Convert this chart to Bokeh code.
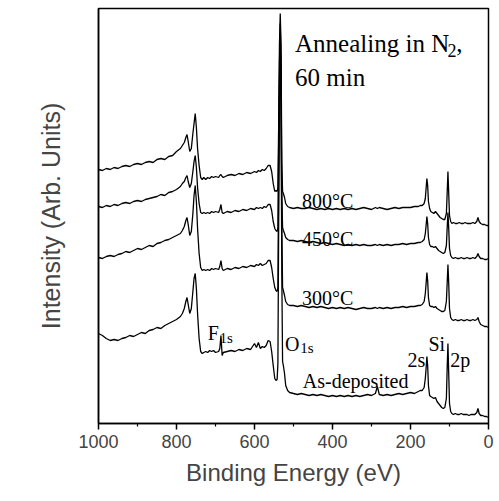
from bokeh.plotting import figure
from bokeh.models import Range1d, FixedTicker, Label
from bokeh.embed import file_html
from bokeh.resources import INLINE

# Binding energy grid (eV), shared by all spectra
energy = [1000, 990, 980, 970, 960, 950, 940, 930, 920, 910, 900, 890, 880, 870, 860, 850, 840, 830, 820, 810, 800, 790,
          785, 780, 776, 773, 770, 766, 762, 758, 755, 752, 749, 746, 742, 738, 734, 730,
          725, 720, 715, 710, 705, 700, 692, 689, 686, 683, 680,
          670, 660, 650, 640, 630, 620, 610, 600, 595, 590, 585, 580, 575, 570, 565, 560, 556, 552, 548, 545, 542, 540,
          538, 536, 534, 532, 530, 528, 526, 523, 520, 515, 510,
          500, 490, 480, 470, 460, 450, 440, 430, 420, 410, 400, 390, 380, 370, 360, 350, 340, 330, 320, 310,
          300, 290, 285, 280, 270, 260, 250, 240, 230, 220, 210, 200, 190, 180, 175, 170,
          165, 162, 160, 158, 156, 154, 151, 148, 144, 140, 136, 132, 128, 124, 120, 116, 112, 108, 106, 104, 102, 100, 97, 94,
          90, 85, 80, 75, 70, 65, 60, 55, 50, 45, 40, 35, 30, 27, 24, 20, 15, 10, 5, 0]

# Intensities (arb. units, offset stacked)
int_800 = [254, 253, 255, 254, 256, 255, 257, 258, 257, 259, 260, 259, 261, 262, 261, 264, 265, 264, 267, 268, 272, 275,
           278, 281, 286, 289, 282, 272, 275, 290, 300, 310, 296, 275, 258, 246, 244, 246,
           244, 246, 245, 247, 246, 247, 246, 248, 249, 247, 246,
           248, 249, 248, 250, 249, 251, 250, 252, 251, 253, 252, 254, 253, 255, 258, 258, 252, 240, 232, 233, 232, 236,
           300, 380, 410, 380, 260, 232, 230, 226, 220, 217, 216,
           215, 216, 215, 215, 216, 215, 214, 215, 214, 215, 214, 215, 214, 215, 214, 215, 214, 215, 216, 215,
           214, 216, 215, 216, 215, 214, 215, 216, 215, 216, 216, 216, 217, 217, 218, 218,
           220, 225, 235, 245, 238, 222, 215, 212, 211, 210, 212, 210, 208, 206, 205, 204, 204, 210, 230, 252, 230, 208, 202, 200,
           201, 200, 200, 201, 200, 200, 201, 200, 200, 200, 201, 200, 202, 206, 202, 200, 199, 199, 198, 198]

int_450 = [217, 216, 218, 217, 219, 218, 220, 221, 220, 222, 223, 222, 224, 225, 226, 227, 229, 228, 231, 232, 234, 237,
           240, 242, 246, 248, 242, 236, 240, 252, 262, 268, 256, 236, 220, 211, 210, 211,
           210, 211, 210, 212, 211, 212, 211, 214, 219, 211, 210,
           212, 211, 213, 212, 214, 213, 215, 214, 216, 215, 216, 215, 217, 216, 219, 219, 213, 202, 195, 193, 192, 196,
           280, 360, 400, 360, 230, 196, 193, 190, 186, 184, 183,
           183, 182, 183, 182, 181, 182, 181, 180, 181, 180, 179, 180, 179, 178, 179, 178, 179, 178, 179, 178,
           178, 179, 178, 179, 178, 179, 178, 179, 179, 180, 179, 180, 180, 181, 181, 182,
           184, 190, 198, 207, 200, 186, 179, 177, 177, 176, 177, 175, 173, 172, 171, 170, 171, 178, 195, 211, 195, 175, 168, 166,
           165, 166, 165, 165, 166, 165, 165, 166, 165, 165, 166, 165, 167, 170, 167, 165, 165, 164, 164, 165]

int_300 = [166, 165, 167, 168, 167, 169, 170, 172, 171, 173, 175, 174, 176, 178, 177, 180, 181, 183, 184, 186, 188, 190,
           193, 197, 203, 206, 199, 188, 192, 210, 228, 238, 222, 195, 170, 156, 153, 154,
           153, 154, 153, 155, 154, 155, 154, 157, 163, 155, 153,
           155, 154, 156, 155, 157, 156, 158, 157, 159, 158, 160, 158, 159, 160, 163, 163, 156, 145, 136, 133, 132, 136,
           250, 340, 390, 340, 200, 136, 133, 128, 122, 119, 118,
           118, 117, 118, 117, 116, 117, 116, 117, 116, 115, 116, 115, 116, 115, 116, 115, 114, 115, 116, 115,
           115, 116, 115, 116, 115, 116, 115, 116, 116, 117, 116, 117, 117, 118, 118, 119,
           122, 130, 140, 151, 143, 126, 118, 117, 117, 116, 117, 115, 114, 113, 112, 112, 113, 122, 140, 159, 140, 115, 106, 104,
           103, 104, 103, 103, 104, 103, 103, 104, 103, 103, 104, 103, 104, 106, 102, 99, 98, 97, 97, 96]

int_asdep = [90, 88, 85, 83, 84, 83, 85, 86, 88, 87, 89, 91, 90, 93, 94, 96, 95, 98, 100, 102, 104, 107,
             110, 115, 122, 126, 119, 110, 115, 132, 145, 150, 135, 110, 85, 72, 70, 71,
             72, 71, 73, 72, 73, 71, 72, 75, 88, 68, 71,
             72, 73, 72, 74, 73, 75, 74, 80, 76, 81, 75, 77, 76, 78, 83, 82, 72, 58, 45, 43, 44, 60,
             200, 320, 380, 320, 150, 62, 58, 50, 38, 33, 31,
             30, 29, 30, 29, 28, 29, 28, 29, 28, 27, 28, 27, 28, 27, 28, 27, 28, 27, 28, 29,
             28, 30, 37, 29, 28, 29, 28, 29, 30, 29, 30, 31, 30, 32, 33, 33,
             36, 45, 55, 67, 58, 38, 28, 27, 26, 25, 26, 22, 20, 18, 16, 15, 16, 25, 55, 80, 50, 20, 12, 10,
             9, 10, 9, 9, 10, 9, 9, 9, 8, 9, 9, 9, 11, 15, 10, 8, 8, 7, 7, 6]

series = [int_800, int_450, int_300, int_asdep]
for s in series:
    assert len(s) == len(energy), (len(s), len(energy))

x_ticks = [0, 200, 400, 600, 800, 1000]
x_minor = [100, 300, 500, 700, 900]

p = figure(width=499, height=501, output_backend="svg", toolbar_location=None,
           x_range=Range1d(1000, 0), y_range=Range1d(0, 415),
           min_border_left=98, min_border_right=11, min_border_top=8, min_border_bottom=78)
p.background_fill_color = "white"
p.border_fill_color = "white"
p.outline_line_color = "black"
p.outline_line_width = 1.5
p.xgrid.visible = False
p.ygrid.visible = False

for s in series:
    p.line(energy, s, line_color="black", line_width=1.3)

ax = p.xaxis[0]
ax.ticker = FixedTicker(ticks=x_ticks, minor_ticks=x_minor)
ax.axis_label = "Binding Energy (eV)"
ax.axis_label_text_font = "Liberation Sans"
ax.axis_label_text_font_style = "normal"
ax.axis_label_text_font_size = "24px"
ax.axis_label_standoff = 8
ax.major_label_text_font = "Liberation Sans"
ax.major_label_text_font_size = "18px"
ax.major_label_standoff = 5
ax.major_tick_in = 0
ax.major_tick_out = 6
ax.minor_tick_in = 0
ax.minor_tick_out = 3
ax.axis_line_width = 1.5
ax.major_tick_line_width = 1.5
ax.minor_tick_line_width = 1.2

ay = p.yaxis[0]
ay.ticker = FixedTicker(ticks=[])
ay.axis_label = "Intensity (Arb. Units)"
ay.axis_label_text_font = "Liberation Sans"
ay.axis_label_text_font_style = "normal"
ay.axis_label_text_font_size = "25px"
ay.axis_label_standoff = 34
ay.major_tick_out = 0
ay.minor_tick_out = 0
ay.major_label_standoff = 0
ay.axis_line_width = 1.5

def add_text(x, y, text, size, font="Liberation Serif"):
    p.add_layout(Label(x=x, y=y, text=text, text_font=font, text_font_size=size,
                       text_color="black", text_baseline="alphabetic", text_align="left"))

add_text(496, 380, "Annealing in N", "25px")
add_text(105, 373, "2", "18px")
add_text(83, 380, ",", "25px")
add_text(496, 346, "60 min", "25px")
add_text(478, 223, "800°C", "20px")
add_text(478, 185, "450°C", "20px")
add_text(478, 126, "300°C", "20px")
add_text(720, 91, "F", "20px")
add_text(690, 86, "1s", "15px")
add_text(522, 80, "O", "20px")
add_text(483, 76, "1s", "15px")
add_text(476, 43, "As-deposited", "20px")
add_text(154, 80, "Si", "20px")
add_text(208, 64, "2s", "20px")
add_text(98, 64, "2p", "20px")

open("out.html", "w").write(file_html(p, INLINE))
